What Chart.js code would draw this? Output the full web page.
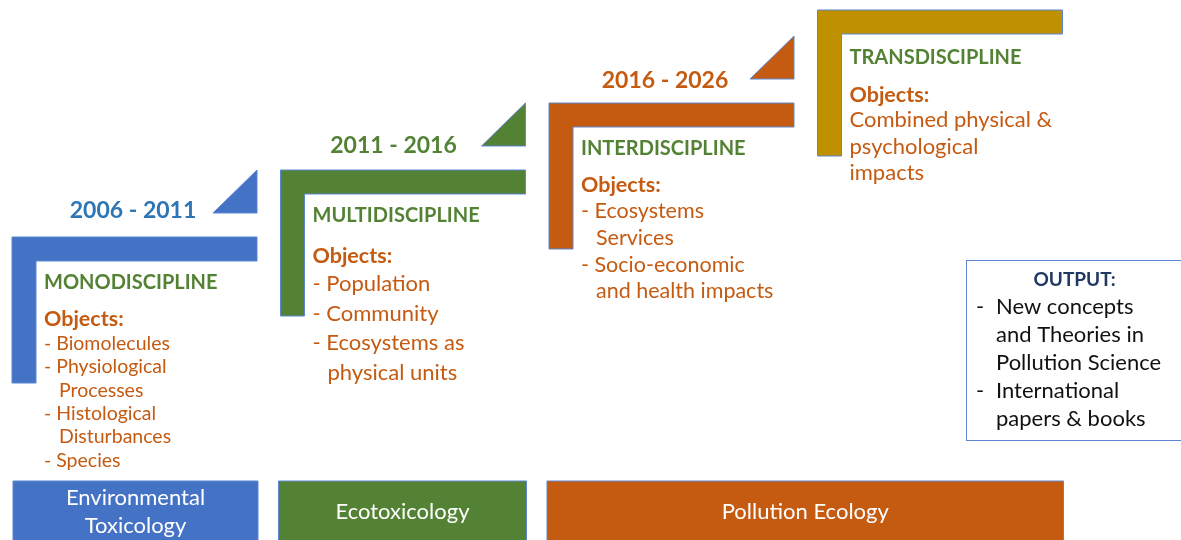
<!DOCTYPE html>
<html>
<head>
<meta charset="utf-8">
<script src="https://cdn.jsdelivr.net/npm/chart.js@4.4.1/dist/chart.umd.min.js"></script>
<style>
    html, body { margin: 0; padding: 0; background: #ffffff; }
    #wrap { width: 1181px; height: 540px; }
</style>
</head>
<body>
<div id="wrap"><canvas id="chartSteps" width="1181" height="540"></canvas></div>
<script>
// === Datos del diagrama ===
const periods = ["2006 - 2011", "2011 - 2016", "2016 - 2026", ""];
const disciplines = ["MONODISCIPLINE", "MULTIDISCIPLINE", "INTERDISCIPLINE", "TRANSDISCIPLINE"];
const objectsMono = ["- Biomolecules", "- Physiological", "Processes", "- Histological", "Disturbances", "- Species"];
const objectsMulti = ["- Population", "- Community", "- Ecosystems as", "physical units"];
const objectsInter = ["- Ecosystems", "Services", "- Socio-economic", "and health impacts"];
const objectsTrans = ["Combined physical &", "psychological", "impacts"];
const fields = ["Environmental\nToxicology", "Ecotoxicology", "Pollution Ecology"];
const fieldSteps = [[0, 0], [1, 1], [2, 3]];
const outputTitle = "OUTPUT:";
const outputItems = [["New concepts", "and Theories in", "Pollution Science"], ["International", "papers & books"]];

// === Estilo y disposicion ===
const stepColors = ["#4472C4", "#548235", "#C55A11", "#BF9000"];
const yearColors = ["#2E75B6", "#548235", "#C55A11", "#BF9000"];
const stepTops = [237, 170, 103, 10];
const yearGap = [19, 17, 15, 0];
const yearShift = [121, 113, 116, 0];
const titleGap = [52, 52, 52, 54];
const objGap = [89, 93, 89, 92];
const itemStart = [113, 121, 115, 117];
const itemFont = [19.5, 22, 21.5, 22];
const itemLead = [23.3, 29.5, 26.8, 26.5];
const FONT = "Lato, 'Noto Sans', sans-serif";
const outline = "#5B86D2";

document.addEventListener("DOMContentLoaded", function () {
    const objects = [objectsMono, objectsMulti, objectsInter, objectsTrans];

    const stepPlugin = {
        id: "steps",
        afterDraw(chart) {
            const ctx = chart.ctx;
            const sx = chart.scales.x, sy = chart.scales.y;
            const px = v => sx.getPixelForValue(v);
            const py = v => sy.getPixelForValue(v);
            const stepLeft = i => 12 + i * 268.5;
            const W = 245, T = 24, H = 146;

            function poly(pts, fill) {
                ctx.beginPath();
                pts.forEach((p, k) => k ? ctx.lineTo(px(p[0]), py(p[1])) : ctx.moveTo(px(p[0]), py(p[1])));
                ctx.closePath();
                ctx.fillStyle = fill;
                ctx.fill();
                ctx.lineWidth = 1;
                ctx.strokeStyle = outline;
                ctx.stroke();
            }
            function text(str, x, y, font, color, align) {
                ctx.font = font;
                ctx.fillStyle = color;
                ctx.textAlign = align || "left";
                ctx.textBaseline = "alphabetic";
                ctx.fillText(str, px(x), py(y));
            }

            ctx.save();
            disciplines.forEach((name, i) => {
                const L = stepLeft(i), Y = stepTops[i];
                poly([[L, Y], [L + W, Y], [L + W, Y + T], [L + T, Y + T], [L + T, Y + H], [L, Y + H]], stepColors[i]);
                if (periods[i]) {
                    poly([[L + W, Y - 67], [L + W, Y - 24], [L + W - 44, Y - 24]], stepColors[i]);
                    text(periods[i], L + yearShift[i], Y - yearGap[i], "bold 23px " + FONT, yearColors[i], "center");
                }
                text(name, L + 32, Y + titleGap[i], "bold 20px " + FONT, "#548235");
                text("Objects:", L + 32, Y + objGap[i], "bold 21.5px " + FONT, "#C55A11");
                const bullets = objects[i].some(s => s.startsWith("- "));
                objects[i].forEach((line, k) => {
                    const ind = bullets && !line.startsWith("- ") ? 15 : 0;
                    text(line, L + 32 + ind, Y + itemStart[i] + k * itemLead[i],
                        itemFont[i] + "px " + FONT, "#C55A11");
                });
            });

            // Campos inferiores
            fields.forEach((f, j) => {
                const x0 = stepLeft(fieldSteps[j][0]) + (j ? -2 : 1);
                const x1 = stepLeft(fieldSteps[j][1]) + W + 1;
                poly([[x0, 481], [x1, 481], [x1, 542], [x0, 542]], stepColors[j]);
                const lines = f.split("\n");
                const mid = (x0 + x1) / 2;
                lines.forEach((ln, k) => {
                    const base = lines.length > 1 ? 505 + k * 28 : 519;
                    text(ln, mid, base, "22px " + FONT, "#ffffff", "center");
                });
            });

            // Caja de resultados
            ctx.lineWidth = 1;
            ctx.strokeStyle = outline;
            ctx.strokeRect(px(966) + 0.5, py(260) + 0.5, px(1185) - px(966), py(440) - py(260));
            text(outputTitle, 1074.5, 286, "bold 19px " + FONT, "#1F3864", "center");
            let k = 0;
            outputItems.forEach(item => {
                item.forEach((ln, m) => {
                    if (m === 0) text("-", 976, 314 + k * 28, "22px " + FONT, "#111111");
                    text(ln, 996, 314 + k * 28, "22px " + FONT, "#111111");
                    k++;
                });
            });
            ctx.restore();
        }
    };

    new Chart(document.getElementById("chartSteps").getContext("2d"), {
        type: "scatter",
        data: { datasets: [{ data: [] }] },
        options: {
            responsive: false,
            animation: false,
            events: [],
            layout: { padding: 0 },
            plugins: { legend: { display: false }, tooltip: { enabled: false } },
            scales: {
                x: { type: "linear", min: 0, max: 1181, display: false },
                y: { type: "linear", min: 0, max: 540, reverse: true, display: false }
            }
        },
        plugins: [stepPlugin]
    });
});
</script>
</body>
</html>
